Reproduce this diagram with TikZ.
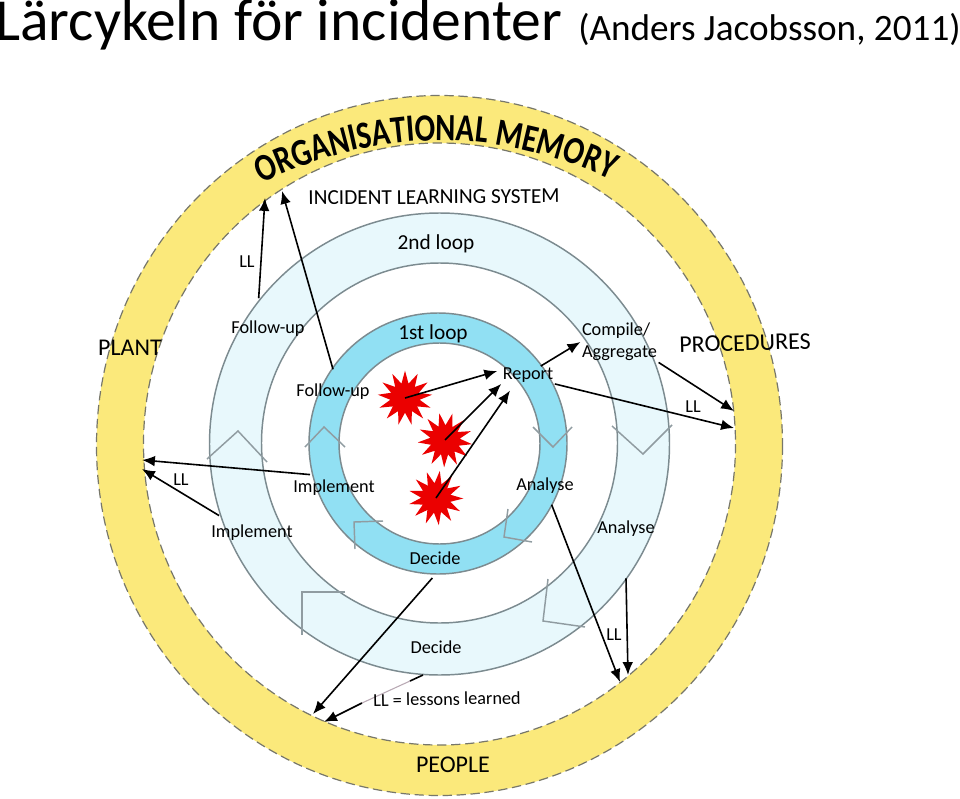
\documentclass[tikz,border=0pt]{standalone}
\usepackage{fontspec}
\setmainfont{Carlito}
\newfontfamily\ringfont[FakeStretch=.79]{Carlito Bold}
\usetikzlibrary{arrows.meta,shapes.geometric,decorations.text}
\definecolor{ringyellow}{HTML}{FBE97B}
\definecolor{ringdash}{HTML}{77776A}
\definecolor{paleblue}{HTML}{E8F8FC}
\definecolor{midblue}{HTML}{91E0F3}
\definecolor{ringline}{HTML}{7C8B90}
\definecolor{faintline}{HTML}{B9A9B4}
\begin{document}
\begin{tikzpicture}[
      x=.75pt,y=-.75pt,font=\fontsize{13.7}{16.4}\selectfont,
      txt/.style={inner sep=1pt,text=black},
      lab/.style={txt,yshift=-1.5pt},
      big/.style={txt,font=\fontsize{18}{21}\selectfont},
      loopname/.style={lab,font=\fontsize{16}{19}\selectfont},
      flare/.style={star,star points=13,star point ratio=1.85,fill=red!92!black,
                    minimum size=41pt,inner sep=0pt},
      ringedge/.style={draw=ringline,line width=1.1pt},
      chev/.style={draw=ringline!85,line width=1.1pt},
      rimdash/.style={draw=ringdash,dashed,dash pattern=on 7pt off 3.5pt,line width=.9pt},
      arr/.style={-{Latex[length=3.4mm,width=2.8mm]},line width=1.2pt}]
    \useasboundingbox (0,0) rectangle (960,799);
    \fill[white] (0,0) rectangle (960,799);
    \node[anchor=base west,inner sep=0pt,font=\fontsize{44.7}{50}\selectfont] (title) at (-5,41) {Lärcykeln för incidenter};
    \node[anchor=base west,inner sep=0pt,font=\fontsize{27.9}{32}\selectfont] (author) at (578,41) {(Anders Jacobsson, 2011)};
    \fill[ringyellow,even odd rule] (439.5,445.5) ellipse [x radius=343,y radius=350]
          (439.5,444) ellipse [x radius=296,y radius=301];
    \draw[rimdash] (439.5,445.5) ellipse [x radius=343,y radius=350];
    \draw[rimdash] (439.5,444) ellipse [x radius=296,y radius=301];
    \draw[ringedge,fill=paleblue] (439.5,444) ellipse [x radius=230,y radius=231];
    \draw[ringedge,fill=white] (439.5,443) ellipse [x radius=178,y radius=180];
    \draw[ringedge,fill=midblue] (438,443.5) ellipse [x radius=129,y radius=130.5];
    \draw[ringedge,fill=white] (439.5,443.5) ellipse [x radius=100.5,y radius=100.5];
    \draw[chev] (305,447)--(324,427)--(345,447);
    \draw[chev] (533,427)--(553,447)--(572,427);
    \draw[chev] (508,509)--(504,537)--(532,542);
    \draw[chev] (383,521)--(354,522)--(355,549);
    \draw[chev] (207,459)--(238,431)--(267,462);
    \draw[chev] (612,426)--(643,454)--(672,425);
    \draw[chev] (548,579)--(543,621)--(585,627);
    \draw[chev] (345,592)--(302,592)--(302,635);
    \path[decorate,decoration={text along path,text align=center,
          text={|\fontsize{29}{34}\selectfont\ringfont|ORGANISATIONAL MEMORY}}]
          (244,192) .. controls (370,126) and (498,122) .. (628,188);
    \node[txt,font=\fontsize{16}{19}\selectfont,rotate=.5] (ils) at (434,197) {INCIDENT LEARNING SYSTEM};
    \node[big] (plant) at (130,348) {PLANT};
    \node[big,rotate=1.5] (proc) at (745,343) {PROCEDURES};
    \node[big] (people) at (453,765) {PEOPLE};
    \node[loopname] (looptwo) at (436,242) {2nd loop};
    \node[loopname] (loopone) at (433,332) {1st loop};
    \node[lab] (followtwo) at (268,327) {Follow-up};
    \node[lab] (followone) at (333,390) {Follow-up};
    \node[lab] (report) at (528,373) {Report};
    \node[lab,align=left] (compile) at (619.5,340) {Compile/\\Aggregate};
    \node[lab] (implone) at (334,486) {Implement};
    \node[lab] (impltwo) at (252,531) {Implement};
    \node[lab] (analyseone) at (545,484) {Analyse};
    \node[lab] (analysetwo) at (626,527) {Analyse};
    \node[txt] (decideone) at (435,558) {Decide};
    \node[txt] (decidetwo) at (436,647) {Decide};
    \node[lab] (llfollow) at (247,260) {LL};
    \node[lab] (llimpl) at (181,478) {LL};
    \node[lab] (llproc) at (693,405) {LL};
    \node[lab] (llanal) at (614,633) {LL};
    \node[flare] (burstone) at (405,398) {};
    \node[flare,shape border rotate=12] (bursttwo) at (445,440) {};
    \node[flare,shape border rotate=-8] (burstthree) at (436,498) {};
    \coordinate (omleft) at (265,198);
    \coordinate (omright) at (282,191);
    \coordinate (planttop) at (142,460);
    \coordinate (plantlow) at (142,469);
    \coordinate (proctop) at (734,411);
    \coordinate (proclow) at (734,428);
    \coordinate (peopleright) at (628,675);
    \coordinate (peoplemid) at (620,682);
    \coordinate (peopleleft) at (313,714);
    \coordinate (peoplekey) at (324,722);
    \coordinate (keytop) at (423,675);
    \coordinate (keystub) at (410,681);
    \coordinate (keymid) at (362,703);
    \draw[arr] (burstone.center)--([xshift=-3pt,yshift=3pt]report.west);
    \draw[arr] (bursttwo.center)--(report.south west);
    \draw[arr] (burstthree.center)--([xshift=-13.5pt,yshift=-5pt]report.south);
    \draw[arr] (report.35)--(compile.west);
    \draw[arr] (report.south east)--(proclow);
    \draw[arr] (compile.south east)--(proctop);
    \draw[arr] ([xshift=-7pt,yshift=16pt]followtwo.north)--(omleft);
    \draw[arr] ([yshift=10pt]followone.north)--(omright);
    \draw[arr] ([xshift=-18pt,yshift=3pt]implone.north)--(planttop);
    \draw[arr] ([xshift=7pt,yshift=6pt]impltwo.north west)--(plantlow);
    \draw[arr] ([xshift=5pt,yshift=-7pt]analyseone.south)--(peoplemid);
    \draw[arr] ([yshift=-30pt]analysetwo.south)--(peopleright);
    \draw[arr] ([xshift=-2pt,yshift=-9pt]decideone.south)--(peopleleft);
    \draw[arr] (keymid)--(peoplekey);
    \draw[faintline,line width=.8pt] (keymid)--(keystub);
    \draw[line width=1.2pt] (keystub)--(keytop);
    \node[txt,rotate=1] (llkey) at (447,699) {LL = lessons learned};
  \end{tikzpicture}
\end{document}
